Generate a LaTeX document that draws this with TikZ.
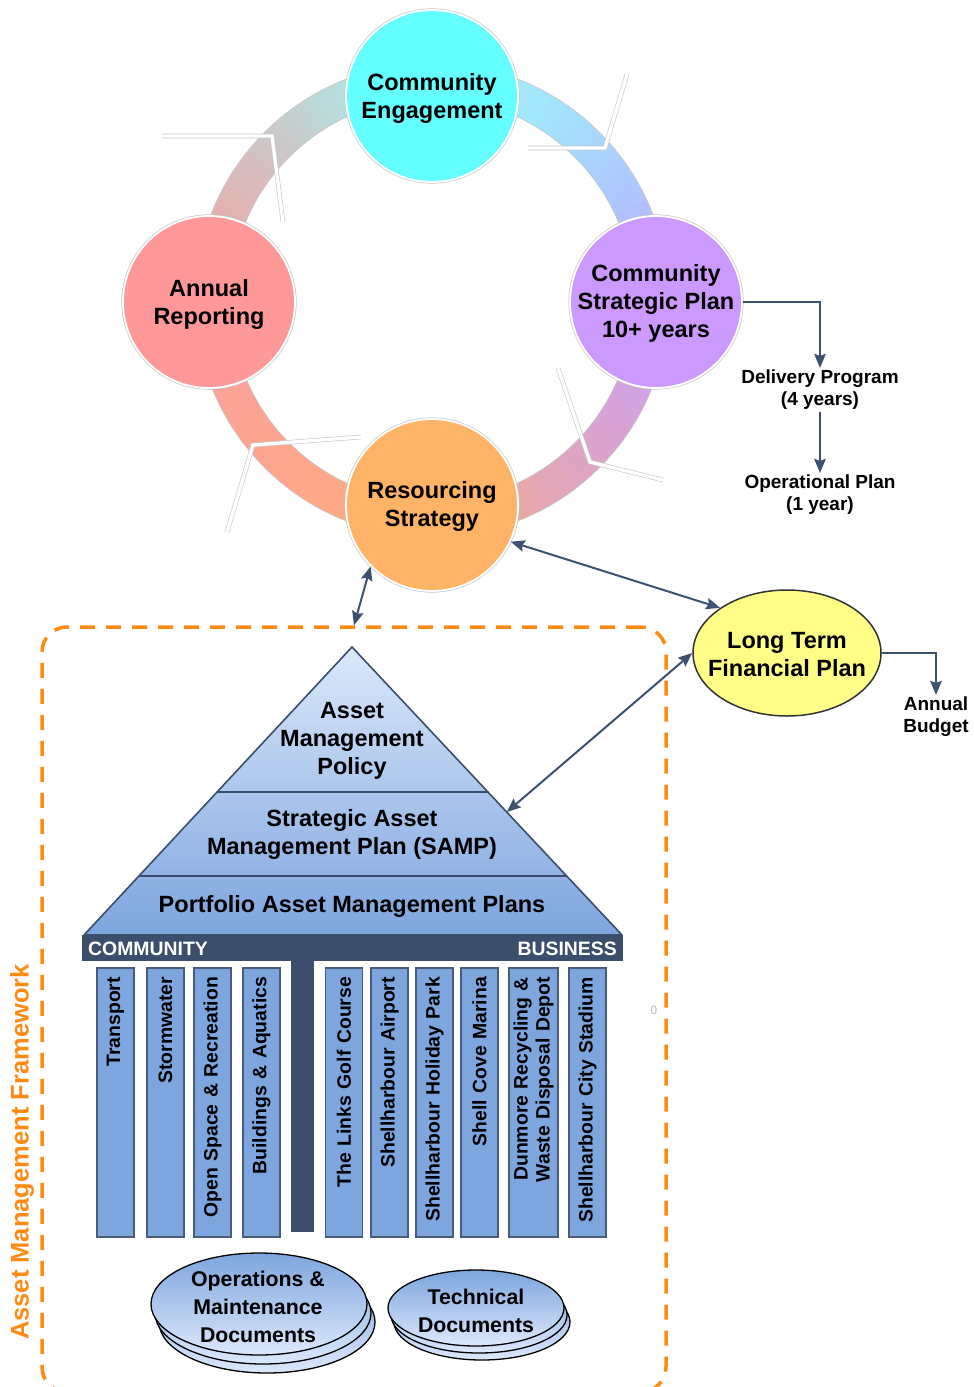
\documentclass[tikz,border=0pt]{standalone}
\usepackage{fontspec}
\setmainfont{Liberation Sans}
\usetikzlibrary{arrows.meta,shapes.geometric,calc}

% palette
\definecolor{slate}{HTML}{3B4E6B}
\definecolor{arrowC}{HTML}{3D5171}
\definecolor{colFill}{HTML}{7EA6DE}
\definecolor{colBd}{HTML}{4B5C7A}
\definecolor{orangeF}{HTML}{FF8A12}
\definecolor{ceC}{HTML}{66FFFF}
\definecolor{arC}{HTML}{FF9999}
\definecolor{cspC}{HTML}{CC99FF}
\definecolor{rsC}{HTML}{FFB366}
\definecolor{ltfpC}{HTML}{FFFF88}
\definecolor{pyrTop}{HTML}{DCE8FB}
\definecolor{pyrBot}{HTML}{7DA5DE}
% ring colour stops, clockwise from the left
\definecolor{rgA}{HTML}{F7A0A0}
\definecolor{rgB}{HTML}{D8BCBC}
\definecolor{rgC}{HTML}{BCD8D8}
\definecolor{rgD}{HTML}{A6F2F2}
\definecolor{rgE}{HTML}{A2E6FB}
\definecolor{rgF}{HTML}{AEC8FF}
\definecolor{rgG}{HTML}{C2A8F8}
\definecolor{rgH}{HTML}{D6A2DC}
\definecolor{rgI}{HTML}{E4A6B4}
\definecolor{rgJ}{HTML}{FCB07C}
\definecolor{rgK}{HTML}{FFA68A}

\newcommand\txtL{\fontsize{23.5}{28}\selectfont\bfseries}
\newcommand\txtS{\fontsize{19}{22}\selectfont\bfseries}
\newcommand\txtC{\fontsize{19.4}{22}\selectfont\bfseries}
\newcommand\txtD{\fontsize{21.3}{28}\selectfont\bfseries}
\newcommand\txtF{\fontsize{25.5}{30}\selectfont\bfseries}

\begin{document}
\begin{tikzpicture}[x=1pt,y=-1pt,
  >={Stealth[length=14pt,width=11.5pt,inset=2pt]},
  txt/.style={font=\txtL, align=center, inner sep=1pt},
  smalltxt/.style={font=\txtS, align=center, inner sep=2pt},
  bubble/.style={circle, minimum size=172pt, inner sep=0pt, draw=white, line width=1.8pt,
                 preaction={draw=black!22, line width=3.2pt}},
  chev/.style={draw=black!22, double=white, double distance=3.4pt, line width=0.6pt, line join=miter},
  conn/.style={draw=arrowC, line width=2pt, ->},
  conn2/.style={draw=arrowC, line width=2pt, <->},
  ltfpshape/.style={ellipse, minimum width=188pt, minimum height=126pt, inner sep=0pt,
                    fill=ltfpC, draw=black!80, line width=1.5pt},
  tier/.style={draw=slate, line width=2pt},
  bartxt/.style={font=\txtC, text=white, inner sep=2pt},
  col/.style={rotate=90, draw=colBd, fill=colFill, line width=1.3pt,
              minimum width=269pt, minimum height=37pt, text width=251pt,
              inner xsep=9pt, inner ysep=0pt, align=right, font=\txtC},
  disc/.style={top color=pyrBot, bottom color=pyrTop, draw=black, line width=1.3pt},
  fwbox/.style={draw=orangeF, line width=3.5pt, dash pattern=on 15pt off 11pt,
                rounded corners=25pt, minimum width=624pt, minimum height=765pt, inner sep=0pt}
]
\useasboundingbox (0,0) rectangle (974,1387);
\clip (0,0) rectangle (974,1387);

% ---- planning cycle ring, coloured gradually between the stops ----
\begin{scope}[shift={(432,300)}]
  \foreach \a/\b/\ca/\cb in {180/215/rgA/rgB, 215/240/rgB/rgC, 240/270/rgC/rgD,
      270/300/rgD/rgE, 300/330/rgE/rgF, 330/360/rgF/rgG, 0/30/rgG/rgH,
      30/60/rgH/rgI, 60/90/rgI/rgJ, 90/125/rgJ/rgK, 125/180/rgK/rgA}{
    \foreach \k in {0,...,11}{
      \pgfmathsetmacro\s{\a+(\b-\a)*\k/12}
      \pgfmathsetmacro\e{\a+(\b-\a)*(\k+1)/12+0.4}
      \pgfmathsetmacro\p{(\k+0.5)*100/12}
      \fill[\cb!\p!\ca] (\s:237) -- (\e:237) -- (\e:202) -- (\s:202) -- cycle;
    }
  }
  \draw[black!22, line width=0.6pt] (0,0) circle[radius=237] (0,0) circle[radius=202];
\end{scope}

% white chevrons showing the clockwise flow
\draw[chev] (162,136) -- (272,136) -- (283,222);
\draw[chev] (528,148) -- (605,148) -- (627,74);
\draw[chev] (558,368) -- (590,462) -- (663,480);
\draw[chev] (361,437) -- (253,445) -- (227,532);

% ---- cycle stages ----
\node[bubble, fill=ceC] (ce) at (432,96) {};
\node[txt] (ce-t) at (432,98) {Community\\Engagement};
\node[bubble, fill=arC] (ar) at (209,302) {};
\node[txt] (ar-t) at (209,304) {Annual\\Reporting};
\node[bubble, fill=cspC] (csp) at (656,302) {};
\node[txt] (csp-t) at (656,303) {Community\\Strategic Plan\\10+ years};
\node[bubble, fill=rsC] (rs) at (432,505) {};
\node[txt] (rs-t) at (432,506) {Resourcing\\Strategy};

% ---- delivery chain ----
\node[smalltxt] (dp) at (820,390) {Delivery Program\\(4 years)};
\node[smalltxt] (op) at (820,495) {Operational Plan\\(1 year)};
\draw[conn] (csp.east) -| (dp.north);
\draw[conn] (dp.south) -- (op.north);

% ---- long term financial plan ----
\node[ltfpshape] (ltfp) at (787,653) {};
\node[txt] (ltfp-t) at (787,655) {Long Term\\Financial Plan};
\node[smalltxt] (ab) at (936,717) {Annual\\Budget};
\draw[conn] (ltfp.east) -| (ab.north);

% ---- asset management framework ----
\node[fwbox] (fw) at (354,1009.5) {};
\node[font=\txtF, text=orangeF, rotate=90, inner sep=0pt] (fw-t) at (22,1152) {Asset Management Framework};
\node[text=black!28, font=\fontsize{12}{12}\selectfont, inner sep=0pt] (mark0) at (654,1010) {0};

% pyramid
\coordinate (apex) at (352,647);
\coordinate (bl) at (84,935);
\coordinate (br) at (622,935);
\shade[top color=pyrTop, bottom color=pyrBot] (apex) -- (br) -- (bl) -- cycle;
\draw[tier] ($(apex)!0.5035!(bl)$) -- ($(apex)!0.5035!(br)$);
\draw[tier] ($(apex)!0.7951!(bl)$) -- ($(apex)!0.7951!(br)$);
\draw[slate, line width=1.6pt, line join=round] (apex) -- (br) -- (bl) -- cycle;
\coordinate (sampedge) at ($(apex)!0.573!(br)$);
\node[txt] (amp) at (352,741) {Asset\\Management\\Policy};
\node[txt] (samp) at (352,834) {Strategic Asset\\Management Plan (SAMP)};
\node[txt] (pamp) at (352,906) {Portfolio Asset Management Plans};

% community / business bar and stem
\fill[slate] (82,935) rectangle (623,961);
\fill[slate] (291,961) rectangle (314,1232);
\node[bartxt, anchor=west] (comm) at (86,949) {COMMUNITY};
\node[bartxt, anchor=east] (bus) at (619,949) {BUSINESS};

% asset portfolios
\node[col] (c1) at (115.5,1102.5) {Transport};
\node[col] (c2) at (165.5,1102.5) {Stormwater};
\node[col] (c3) at (212.5,1102.5) {Open Space \& Recreation};
\node[col] (c4) at (261.5,1102.5) {Buildings \& Aquatics};
\node[col] (c5) at (344,1102.5) {The Links Golf Course};
\node[col] (c6) at (389.5,1102.5) {Shellharbour Airport};
\node[col] (c7) at (434.5,1102.5) {Shellharbour Holiday Park};
\node[col] (c8) at (479.5,1102.5) {Shell Cove Marina};
\node[col, minimum height=49pt] (c9) at (533.5,1102.5) {Dunmore Recycling \&\\Waste Disposal Depot};
\node[col] (c10) at (587.5,1102.5) {Shellharbour City Stadium};

% document stacks
\shadedraw[disc] (267,1322) ellipse[x radius=108, y radius=51];
\shadedraw[disc] (263,1313) ellipse[x radius=108, y radius=51];
\shadedraw[disc] (259,1304) ellipse[x radius=108, y radius=51];
\node[font=\txtD, align=center, inner sep=1pt] (om) at (258,1307) {Operations \&\\Maintenance\\Documents};
\shadedraw[disc] (482,1322) ellipse[x radius=88, y radius=38];
\shadedraw[disc] (479,1315) ellipse[x radius=88, y radius=38];
\shadedraw[disc] (476,1308) ellipse[x radius=88, y radius=38];
\node[font=\txtD, align=center, inner sep=1pt] (tech) at (476,1311) {Technical\\Documents};

% ---- links between the plans ----
\draw[conn2] (fw.north) -- (rs.-135);
\draw[conn2] (rs.-25) -- (ltfp.146);
\draw[conn2] (ltfp.west) -- (sampedge);
\end{tikzpicture}
\end{document}
